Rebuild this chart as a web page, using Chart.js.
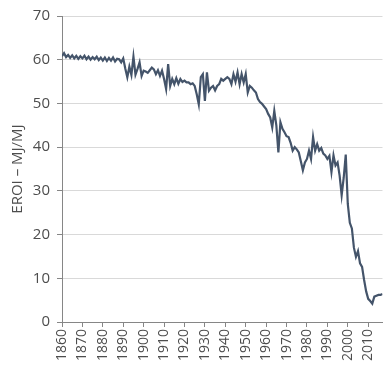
<!DOCTYPE html>
<html>
<head>
<meta charset="utf-8">
<script src="https://cdn.jsdelivr.net/npm/chart.js@4/dist/chart.umd.min.js"></script>
<style>
    body { margin: 0; background: #fff; }
    #eroi-chart { display: block; }
</style>
</head>
<body>
<canvas id="eroi-chart" width="387" height="365"></canvas>
<script>
// EROI per year, starting at 1860
const startYear = 1860;
const eroi = [
    60.8, 61.5, 60.6, 61.1, 60.4, 61.0, 60.3, 60.9, 60.2, 60.8,
    60.3, 60.9, 60.1, 60.7, 60.0, 60.6, 60.1, 60.7, 59.9, 60.5,
    59.8, 60.5, 59.7, 60.4, 59.8, 60.5, 59.6, 60.2, 60.1, 59.4,
    60.3, 58.0, 56.0, 58.4, 56.5, 60.7, 56.6, 57.9, 59.4, 56.3,
    57.5, 57.3, 57.0, 57.6, 58.2, 57.8, 56.7, 57.6, 56.3, 57.5,
    55.6, 53.3, 59.0, 54.0, 55.6, 54.4, 55.8, 54.5, 55.6, 54.9,
    55.2, 54.8, 54.8, 54.4, 54.6, 54.0, 52.1, 49.8, 56.0, 56.7,
    50.6, 57.1, 52.9, 53.6, 54.0, 53.0, 54.0, 54.4, 55.6, 55.2,
    55.6, 56.0, 55.6, 54.4, 56.7, 55.0, 57.1, 54.4, 56.7, 54.8,
    56.7, 52.5, 54.0, 53.6, 53.0, 52.5, 51.0, 50.3, 49.9, 49.3,
    48.7, 47.6, 46.8, 44.5, 48.3, 45.0, 38.8, 45.7, 44.2, 43.4,
    42.5, 42.3, 41.0, 39.2, 40.0, 39.5, 38.8, 36.8, 34.7, 36.5,
    37.3, 39.2, 37.3, 42.3, 39.2, 40.7, 39.2, 39.8, 38.5, 38.1,
    37.3, 38.0, 34.3, 38.1, 35.8, 36.5, 33.5, 29.0, 33.0, 38.3,
    27.0, 22.7, 21.4, 17.0, 14.9, 16.2, 13.4, 12.6, 9.6, 7.0,
    5.3, 4.8, 4.2, 5.8, 6.0, 6.2, 6.2, 6.4
];
const years = eroi.map((v, i) => startYear + i);
const yTicks = [0, 10, 20, 30, 40, 50, 60, 70];
const yTitle = 'EROI – MJ/MJ';

const axisColor = '#868686';
const textColor = '#4d4d4d';
const fontFamily = "'Open Sans', 'Liberation Sans', sans-serif";

const ctx = document.getElementById('eroi-chart').getContext('2d');
const eroiChart = new Chart(ctx, {
    type: 'line',
    data: {
        datasets: [{
            data: years.map((y, i) => ({ x: y, y: eroi[i] })),
            borderColor: '#44546a',
            borderWidth: 2.2,
            pointRadius: 0,
            tension: 0,
            fill: false
        }]
    },
    options: {
        responsive: false,
        animation: false,
        layout: { padding: { top: 15, right: 0, left: 0, bottom: 0 } },
        plugins: {
            legend: { display: false },
            tooltip: { enabled: false }
        },
        scales: {
            x: {
                type: 'linear',
                min: startYear,
                max: years[years.length - 1],
                grid: {
                    drawOnChartArea: false,
                    tickLength: 5,
                    tickColor: axisColor
                },
                border: { color: axisColor },
                ticks: {
                    stepSize: 10,
                    includeBounds: false,
                    autoSkip: false,
                    minRotation: 90,
                    maxRotation: 90,
                    color: textColor,
                    padding: 2,
                    font: { family: fontFamily, size: 14 },
                    callback: (value) => String(value)
                },
                afterFit: (scale) => { scale.height = 43; }
            },
            y: {
                min: yTicks[0],
                max: yTicks[yTicks.length - 1],
                grid: {
                    color: '#d9d9d9',
                    tickLength: 5,
                    tickColor: axisColor
                },
                border: { color: axisColor },
                ticks: {
                    stepSize: 10,
                    color: textColor,
                    padding: 7,
                    font: { family: fontFamily, size: 15 }
                },
                title: {
                    display: true,
                    text: yTitle,
                    color: textColor,
                    font: { family: fontFamily, size: 15 },
                    padding: { top: 9, bottom: 0 }
                },
                afterFit: (scale) => { scale.width = 62; }
            }
        }
    }
});
</script>
</body>
</html>
